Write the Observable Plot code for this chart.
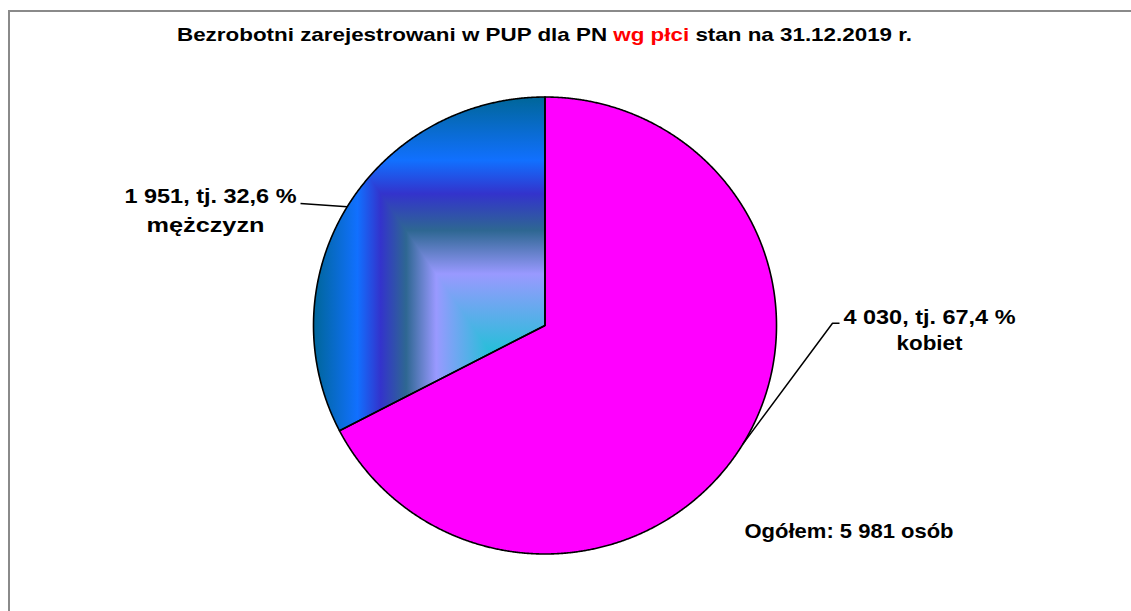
<!DOCTYPE html>
<html><head><meta charset="utf-8">
<script src="https://cdn.jsdelivr.net/npm/d3@7"></script>
<script src="https://cdn.jsdelivr.net/npm/@observablehq/plot@0.6"></script>
<style>
body{margin:0;background:#fff;overflow:hidden;}
#wrap{position:relative;width:1131px;height:611px;overflow:hidden;}
#frame{position:absolute;left:8px;top:10px;width:1300px;height:800px;border-left:2px solid #8a8a8a;border-top:2px solid #8a8a8a;}
#wrap svg{position:absolute;left:0;top:0;}
</style></head>
<body><div id="wrap"><div id="frame"></div></div>
<script>
// ---- data ----
const categories = ["kobiet", "mężczyzn"];
const values = [4030, 1951];
const valueLabels = ["4 030", "1 951"];
const percentLabels = ["67,4 %", "32,6 %"];
const totalLabel = "Ogółem: 5 981 osób";
const titleParts = ["Bezrobotni zarejestrowani w PUP dla PN ", "wg płci", " stan na 31.12.2019 r."];
const titleColors = ["#000000", "#ff0000", "#000000"];
const womenColor = "#ff00ff";
const peacockOffsets = [0, 0.16, 0.47, 0.60, 0.71, 0.81, 1];
const peacockColors = ["#3399FF", "#00CCCC", "#9999FF", "#2E6792", "#3333CC", "#1170FF", "#006699"];

// ---- layout ----
const cx = 544.5, cy = 325, rx = 231.5, ry = 228.5;
const X = px => (px - cx) / rx, Y = py => (cy - py) / ry;

// ---- geometry from values ----
const total = d3.sum(values);
let acc = 0;
const slices = categories.map((c, i) => {
  const a0 = acc / total * 2 * Math.PI; acc += values[i];
  const a1 = acc / total * 2 * Math.PI;
  return {c, i, a0, a1, mid: (a0 + a1) / 2};
});
const pts = [];
for (const s of slices) {
  pts.push({c: s.c, x: 0, y: 0});
  const n = Math.ceil((s.a1 - s.a0) / (Math.PI / 720));
  for (let k = 0; k <= n; k++) {
    const a = s.a0 + (s.a1 - s.a0) * k / n;
    pts.push({c: s.c, x: Math.sin(a), y: Math.cos(a)});
  }
  pts.push({c: s.c, x: 0, y: 0});
}
const women = pts.filter(d => d.c === categories[0]);
const men = pts.filter(d => d.c === categories[1]);

// rectangular (from bottom-right corner) gradient: upper-right part of men's slice along bbox diagonal
const xmin = d3.min(men, d => d.x), xmax = d3.max(men, d => d.x);
const ymin = d3.min(men, d => d.y), ymax = d3.max(men, d => d.y);
const f = p => (p.x - xmin) / (xmax - xmin) - (ymax - p.y) / (ymax - ymin);
function clip(poly, sign) {
  const out = [];
  for (let i = 0; i < poly.length; i++) {
    const a = poly[i], b = poly[(i + 1) % poly.length];
    const fa = sign * f(a), fb = sign * f(b);
    if (fa >= 0) out.push({x: a.x, y: a.y});
    if ((fa >= 0) !== (fb >= 0)) {
      const t = fa / (fa - fb);
      out.push({x: a.x + (b.x - a.x) * t, y: a.y + (b.y - a.y) * t});
    }
  }
  if (out.length) out.push({...out[0]});
  return out;
}
const menUpper = clip(men, 1);   // bands vary with y

const leaders = [
  {c: categories[0], x: Math.sin(slices[0].mid), y: Math.cos(slices[0].mid)},
  {c: categories[0], x: X(832), y: Y(322.7)},
  {c: categories[0], x: X(839), y: Y(322.7)},
  {c: categories[1], x: Math.sin(slices[1].mid), y: Math.cos(slices[1].mid)},
  {c: categories[1], x: X(300), y: Y(203)}
];
const labels = [
  {t: `${valueLabels[0]}, tj. ${percentLabels[0]}`, x: X(929), y: Y(323.3), w: 172},
  {t: categories[0], x: X(929), y: Y(349.3), w: 66},
  {t: `${valueLabels[1]}, tj. ${percentLabels[1]}`, x: X(210), y: Y(202.7), w: 172},
  {t: categories[1], x: X(205), y: Y(231), w: 118},
  {t: totalLabel, x: X(848.5), y: Y(537.3), w: 209}
];

const svg = Plot.plot({
  width: 1131, height: 611, margin: 0,
  x: {domain: [-1, 1], range: [cx - rx, cx + rx], axis: null},
  y: {domain: [-1, 1], range: [cy + ry, cy - ry], axis: null},
  style: {background: "transparent", fontFamily: "'Liberation Sans', Arial, sans-serif", color: "#000"},
  marks: [
    Plot.line(women, {x: "x", y: "y", fill: womenColor, stroke: "none"}),
    Plot.line(men, {x: "x", y: "y", fill: "url(#peacockH)", stroke: "none"}),
    Plot.line(menUpper, {x: "x", y: "y", fill: "url(#peacockV)", stroke: "none"}),
    Plot.line(pts, {x: "x", y: "y", z: "c", stroke: "#000", strokeWidth: 1.6, strokeLinejoin: "miter", strokeMiterlimit: 10}),
    Plot.line(leaders, {x: "x", y: "y", z: "c", stroke: "#000", strokeWidth: 1.5, strokeLinecap: "butt"}),
    Plot.text(labels, {x: "x", y: "y", text: "t", fontWeight: "bold", fontSize: 20.5, lineAnchor: "bottom", textAnchor: "middle", fill: "#000"})
  ]
});

const s = d3.select(svg);
const sx = v => cx + rx * v, sy = v => cy - ry * v;
const defs = s.insert("defs", ":first-child");
const gH = defs.append("linearGradient").attr("id", "peacockH").attr("gradientUnits", "userSpaceOnUse")
  .attr("x1", sx(xmax)).attr("y1", 0).attr("x2", sx(xmin)).attr("y2", 0);
const gV = defs.append("linearGradient").attr("id", "peacockV").attr("gradientUnits", "userSpaceOnUse")
  .attr("x1", 0).attr("y1", sy(ymin)).attr("x2", 0).attr("y2", sy(ymax));
for (const g of [gH, gV]) peacockOffsets.forEach((o, i) => g.append("stop").attr("offset", o).attr("stop-color", peacockColors[i]));

// stretch label text to the reference's wide rendering
s.selectAll("text").each(function(_, i) {
  if (labels[i]) d3.select(this).attr("textLength", labels[i].w).attr("lengthAdjust", "spacingAndGlyphs");
});

// title
const tt = s.append("text").attr("x", 544.5).attr("y", 41).attr("text-anchor", "middle")
  .attr("font-size", 19).attr("font-weight", "bold")
  .attr("textLength", 735).attr("lengthAdjust", "spacingAndGlyphs");
titleParts.forEach((p, i) => tt.append("tspan").attr("fill", titleColors[i]).text(p));

document.getElementById("wrap").appendChild(svg);
</script></body></html>
